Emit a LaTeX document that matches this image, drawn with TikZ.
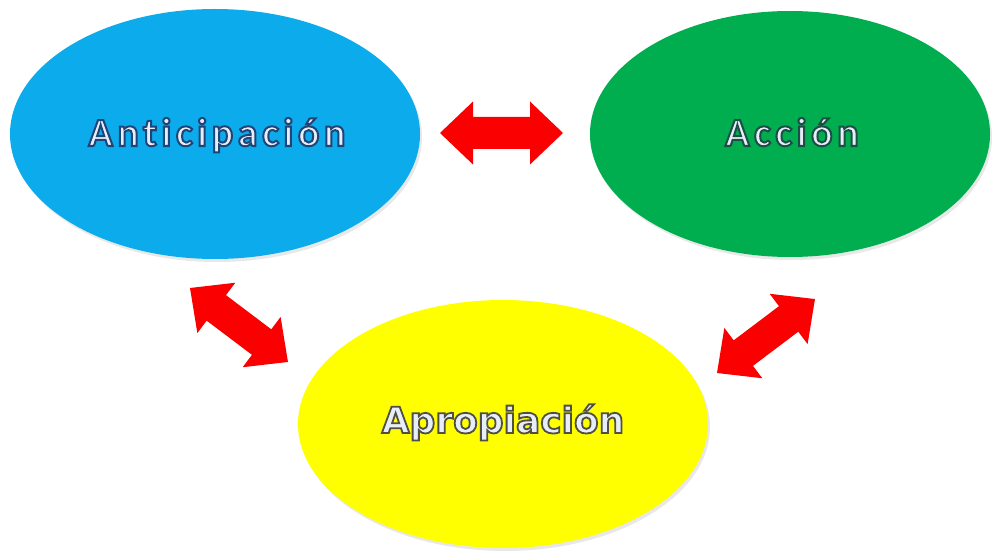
\documentclass[tikz,border=0pt]{standalone}
\usepackage{fontspec}
\usetikzlibrary{shapes.geometric,calc,shadows}

\setmainfont{Carlito}
% stroked (fake bold) faces: the stroke gets its own colour below
\newfontfamily\roundfont[LetterSpace=11.5, Ligatures=NoCommon, FakeBold=5]{Carlito Bold}
\newfontfamily\widefont[FakeBold=5]{DejaVu Sans Bold}

\definecolor{skyfill}{RGB}{12,172,236}
\definecolor{leaffill}{RGB}{0,174,80}
\definecolor{sunfill}{RGB}{255,255,0}
\definecolor{arrowred}{RGB}{250,0,0}
\definecolor{letterfill}{RGB}{232,238,248}

% outline colour of the letters, given as r g b in 0..1
\newcommand\outlined[2]{\special{pdf:literal direct #1 RG}#2}

\tikzset{
  bubble/.style={ellipse, draw=none, inner sep=0pt,
    drop shadow={shadow xshift=2pt, shadow yshift=-3pt, opacity=0.18}},
  word/.style={anchor=base, inner sep=0pt, font=\roundfont\fontsize{40}{44}\selectfont, text=letterfill},
  wideword/.style={anchor=base, inner sep=0pt, font=\widefont\fontsize{36}{40}\selectfont, text=letterfill},
  twohead/.pic={
    \fill[arrowred] (0,0) -- (33,31.5) -- (33,16) -- ({#1-33},16) -- ({#1-33},31.5)
      -- (#1,0) -- ({#1-33},-31.5) -- ({#1-33},-16) -- (33,-16) -- (33,-31.5) -- cycle;
  }
}

\begin{document}
\begin{tikzpicture}[x=1pt,y=-1pt]
  \useasboundingbox (0,0) rectangle (993,556);
  \fill[white] (0,0) rectangle (993,556);

  % the three stages
  \node[bubble, fill=skyfill,  minimum width=410, minimum height=250] (ant) at (215,134) {};
  \node[bubble, fill=leaffill, minimum width=400, minimum height=246] (acc) at (790,134) {};
  \node[bubble, fill=sunfill,  minimum width=410, minimum height=248] (apr) at (503,424) {};

  \node[word] (antText) at (217,146) {\outlined{0.12 0.27 0.47}{Anticipación}};
  \node[word] (accText) at (792,146) {\outlined{0.10 0.31 0.27}{Acción}};
  \node[wideword] (aprText) at (503,433) {\outlined{0.31 0.31 0.27}{Apropiación}};

  % ends of the two-headed arrows
  \coordinate (h1) at (440,133);
  \coordinate (h2) at (563,133);
  \coordinate (l1) at (190,288);
  \coordinate (l2) at (288,362);
  \coordinate (r1) at (717,373);
  \coordinate (r2) at (815,299);

  \foreach \s/\e in {h1/h2, l1/l2, r1/r2}{
    \path let \p1=($(\e)-(\s)$), \n1={veclen(\x1,\y1)}, \n2={atan2(\y1,\x1)}
      in (\s) pic[rotate=\n2] {twohead=\n1};
  }
\end{tikzpicture}
\end{document}
